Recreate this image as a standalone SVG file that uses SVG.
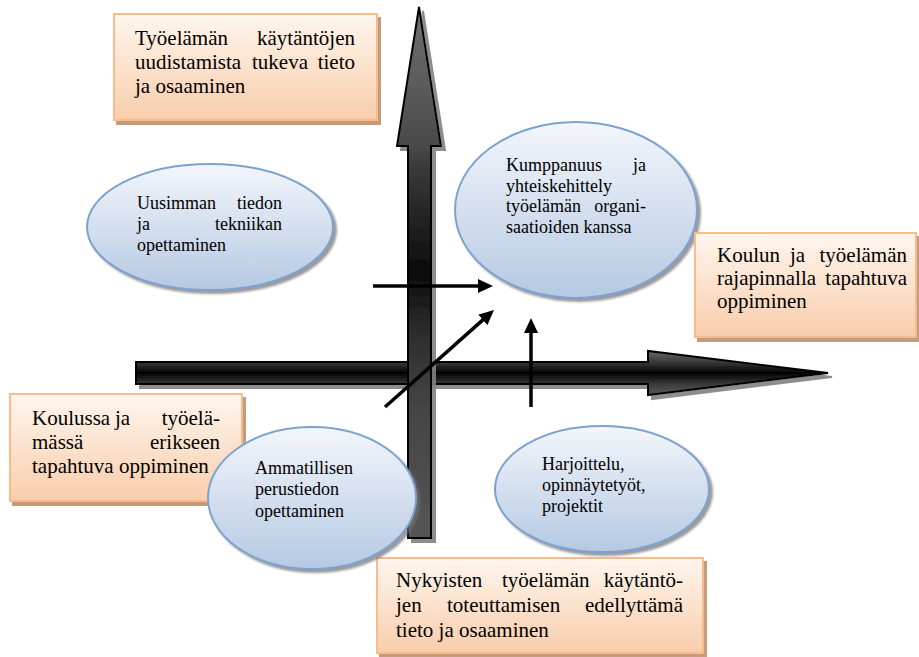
<svg xmlns="http://www.w3.org/2000/svg" width="919" height="657" viewBox="0 0 919 657">
<defs>
  <linearGradient id="boxFill" x1="0" y1="0" x2="0" y2="1">
    <stop offset="0" stop-color="#fff6ee"/>
    <stop offset="1" stop-color="#f9cdab"/>
  </linearGradient>
  <linearGradient id="ellFill" x1="0" y1="0" x2="0" y2="1">
    <stop offset="0" stop-color="#f3f6fb"/>
    <stop offset="1" stop-color="#b5c9e3"/>
  </linearGradient>
  <linearGradient id="vGrad" gradientUnits="userSpaceOnUse" x1="0" y1="7" x2="0" y2="538">
    <stop offset="0" stop-color="#707070"/>
    <stop offset="0.26" stop-color="#4a4a4a"/>
    <stop offset="0.3" stop-color="#3a3a3a"/>
    <stop offset="0.5" stop-color="#0c0c0c"/>
    <stop offset="0.6" stop-color="#2a2a2a"/>
    <stop offset="0.75" stop-color="#444"/>
    <stop offset="1" stop-color="#555"/>
  </linearGradient>
  <linearGradient id="hGrad" gradientUnits="userSpaceOnUse" x1="0" y1="351" x2="0" y2="395">
    <stop offset="0" stop-color="#6a6a6a"/>
    <stop offset="0.25" stop-color="#3a3a3a"/>
    <stop offset="0.38" stop-color="#1e1e1e"/>
    <stop offset="0.5" stop-color="#000"/>
    <stop offset="0.62" stop-color="#1c1c1c"/>
    <stop offset="0.75" stop-color="#3a3a3a"/>
    <stop offset="1" stop-color="#5a5a5a"/>
  </linearGradient>
  <filter id="boxShadow" x="-5%" y="-5%" width="115%" height="120%">
    <feDropShadow dx="3" dy="4" stdDeviation="0.6" flood-color="#b98a66" flood-opacity="0.85"/>
  </filter>
  <filter id="ellShadow" x="-5%" y="-5%" width="115%" height="120%">
    <feDropShadow dx="3" dy="3" stdDeviation="1.2" flood-color="#6f6f6f" flood-opacity="0.7"/>
  </filter>
  <filter id="axisShadow" x="-5%" y="-5%" width="115%" height="120%">
    <feDropShadow dx="4" dy="4" stdDeviation="0.7" flood-color="#808080" flood-opacity="0.9"/>
  </filter>
  <marker id="arrow" markerUnits="userSpaceOnUse" markerWidth="15" markerHeight="14" refX="5" refY="7" orient="auto">
    <path d="M0,0 L15,7 L0,14 Z" fill="#000"/>
  </marker>
  <style>
    .box { fill: url(#boxFill); stroke: #f7bb8c; stroke-width: 2; filter: url(#boxShadow); }
    .ell { fill: url(#ellFill); stroke: #7ea2cf; stroke-width: 2; filter: url(#ellShadow); }
    text { font-family: 'Liberation Serif', 'DejaVu Serif', serif; fill: #000; }
    .bt { font-size: 21px; }
    .et { font-size: 18px; }
    .e { text-anchor: end; }
    .axis { stroke: #000; stroke-width: 2; stroke-linejoin: miter; filter: url(#axisShadow); }
    .conn { stroke: #000; stroke-width: 3.5; fill: none; marker-end: url(#arrow); }
  </style>
</defs>

<g id="axes">
  <polygon class="axis" fill="url(#hGrad)" points="136,362 648,362 648,351 828,373 648,395 648,384 136,384"/>
  <polygon class="axis" fill="url(#vGrad)" points="408,538 408,146 397,146 419,7 441,146 431,146 431,538"/>
</g>

<g id="box-tyoelaman-kaytantojen">
  <rect class="box" x="114" y="14" width="263" height="106"/>
  <text class="bt" y="45"><tspan x="135">Työelämän</tspan><tspan x="355" class="e">käytäntöjen</tspan></text>
  <text class="bt" y="69"><tspan x="135">uudistamista</tspan><tspan x="252">tukeva</tspan><tspan x="355" class="e">tieto</tspan></text>
  <text class="bt" x="135" y="93">ja osaaminen</text>
</g>

<g id="box-koulussa">
  <rect class="box" x="10" y="394" width="232" height="107"/>
  <text class="bt" y="425"><tspan x="32">Koulussa</tspan><tspan x="115">ja</tspan><tspan x="220" class="e">työelä-</tspan></text>
  <text class="bt" y="449"><tspan x="32">mässä</tspan><tspan x="220" class="e">erikseen</tspan></text>
  <text class="bt" x="32" y="473">tapahtuva oppiminen</text>
</g>

<g id="box-nykyisten">
  <rect class="box" x="377" y="558" width="326" height="95"/>
  <text class="bt" y="587"><tspan x="396">Nykyisten</tspan><tspan x="502">työelämän</tspan><tspan x="683" class="e">käytäntö-</tspan></text>
  <text class="bt" y="612"><tspan x="396">jen</tspan><tspan x="447">toteuttamisen</tspan><tspan x="683" class="e">edellyttämä</tspan></text>
  <text class="bt" x="396" y="637">tieto ja osaaminen</text>
</g>

<g id="ell-uusimman">
  <ellipse class="ell" cx="210" cy="227" rx="123" ry="63"/>
  <text class="et" y="209"><tspan x="137">Uusimman</tspan><tspan x="282" class="e">tiedon</tspan></text>
  <text class="et" y="230"><tspan x="137">ja</tspan><tspan x="282" class="e">tekniikan</tspan></text>
  <text class="et" x="137" y="251">opettaminen</text>
</g>

<g id="ell-kumppanuus">
  <ellipse class="ell" cx="576" cy="210" rx="121" ry="88"/>
  <text class="et" y="171"><tspan x="506">Kumppanuus</tspan><tspan x="646" class="e">ja</tspan></text>
  <text class="et" x="506" y="192">yhteiskehittely</text>
  <text class="et" y="212"><tspan x="506">työelämän</tspan><tspan x="646" class="e">organi-</tspan></text>
  <text class="et" x="506" y="233">saatioiden kanssa</text>
</g>

<g id="ell-ammatillisen">
  <ellipse class="ell" cx="312" cy="498" rx="104" ry="71"/>
  <text class="et" x="255" y="474">Ammatillisen</text>
  <text class="et" x="255" y="495">perustiedon</text>
  <text class="et" x="255" y="517">opettaminen</text>
</g>

<g id="ell-harjoittelu">
  <ellipse class="ell" cx="602" cy="489" rx="107" ry="63"/>
  <text class="et" x="542" y="470">Harjoittelu,</text>
  <text class="et" x="542" y="491">opinnäytetyöt,</text>
  <text class="et" x="542" y="512">projektit</text>
</g>

<g id="box-koulun-rajapinnalla">
  <rect class="box" x="695" y="233" width="221" height="104"/>
  <text class="bt" y="262"><tspan x="717">Koulun</tspan><tspan x="790">ja</tspan><tspan x="907" class="e">työelämän</tspan></text>
  <text class="bt" y="285"><tspan x="717">rajapinnalla</tspan><tspan x="907" class="e">tapahtuva</tspan></text>
  <text class="bt" x="717" y="308">oppiminen</text>
</g>

<g id="connectors">
  <line class="conn" x1="373" y1="286" x2="483" y2="286"/>
  <line class="conn" x1="385" y1="407" x2="486.5" y2="316.6"/>
  <line class="conn" x1="531" y1="407" x2="531" y2="328"/>
</g>
</svg>
